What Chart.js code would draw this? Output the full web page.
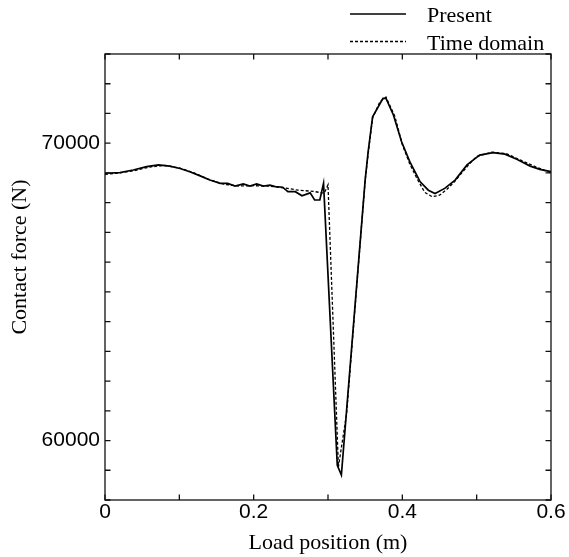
<!DOCTYPE html>
<html lang="en">
<head>
<meta charset="UTF-8">
<title>Contact force vs load position</title>
<script src="https://cdn.jsdelivr.net/npm/chart.js@4"></script>
<style>
  html, body { margin: 0; padding: 0; background: #fff; }
</style>
</head>
<body>
<canvas id="forceChart" width="569" height="557"></canvas>
<script>
// values
const presentPos = [0, 0.02, 0.038, 0.056, 0.072, 0.087, 0.101, 0.114, 0.128, 0.141,
  0.155, 0.165, 0.175, 0.186, 0.195, 0.204, 0.213, 0.222, 0.229, 0.239,
  0.246, 0.256, 0.265, 0.276, 0.282, 0.289, 0.294, 0.3125, 0.318, 0.35,
  0.354, 0.36, 0.374, 0.378, 0.388, 0.399, 0.41, 0.424, 0.435, 0.444,
  0.457, 0.471, 0.487, 0.504, 0.522, 0.538, 0.554, 0.572, 0.585, 0.6];
const presentForce = [68990, 69010, 69100, 69210, 69270, 69230, 69150, 69040, 68900, 68760,
  68650, 68650, 68560, 68630, 68560, 68630, 68560, 68590, 68540, 68520,
  68370, 68370, 68230, 68330, 68090, 68090, 68650, 59170, 58840, 68760,
  69710, 70890, 71510, 71510, 70950, 70050, 69380, 68700, 68420, 68310,
  68480, 68760, 69270, 69600, 69680, 69630, 69460, 69230, 69120, 69040];

const timePos = [0, 0.02, 0.04, 0.06, 0.08, 0.1, 0.12, 0.14, 0.16, 0.18,
  0.2, 0.22, 0.24, 0.26, 0.28, 0.295, 0.3, 0.314, 0.325, 0.35,
  0.355, 0.36, 0.37, 0.378, 0.39, 0.4, 0.41, 0.42, 0.43, 0.44,
  0.45, 0.46, 0.47, 0.48, 0.49, 0.5, 0.52, 0.54, 0.56, 0.58, 0.6];
const timeForce = [68950, 69000, 69080, 69200, 69250, 69170, 69000, 68780, 68620, 68560,
  68570, 68560, 68500, 68420, 68380, 68320, 68600, 59110, 60900, 68760,
  69850, 70850, 71400, 71550, 70900, 69950, 69300, 68800, 68350, 68200,
  68250, 68450, 68700, 69000, 69300, 69550, 69700, 69650, 69420, 69200, 69000];

const xTickLabels = ['0', '0.2', '0.4', '0.6'];
const yTickLabels = ['60000', '70000'];
const seriesNames = ['Present', 'Time domain'];

const SANS = '"Liberation Sans", Arial, sans-serif';
const SERIF = '"Liberation Serif", "Times New Roman", serif';

function toPoints(xs, ys) {
  return xs.map((v, i) => ({ x: v, y: ys[i] }));
}

// box, inward ticks, legend and y title
const framePlugin = {
  id: 'frame',
  afterDraw(chart) {
    const { ctx, chartArea: a, scales: { x, y } } = chart;
    const len = 5.5;
    ctx.save();
    ctx.strokeStyle = '#111';
    ctx.lineWidth = 1.3;
    ctx.strokeRect(a.left, a.top, a.right - a.left, a.bottom - a.top);
    ctx.beginPath();
    x.ticks.forEach(t => {
      const px = x.getPixelForValue(t.value);
      ctx.moveTo(px, a.bottom); ctx.lineTo(px, a.bottom - len);
      ctx.moveTo(px, a.top); ctx.lineTo(px, a.top + len);
    });
    y.ticks.forEach(t => {
      const py = y.getPixelForValue(t.value);
      ctx.moveTo(a.left, py); ctx.lineTo(a.left + len, py);
      ctx.moveTo(a.right, py); ctx.lineTo(a.right - len, py);
    });
    ctx.stroke();

    // legend
    ctx.fillStyle = '#000';
    ctx.font = '22px ' + SERIF;
    ctx.textBaseline = 'alphabetic';
    chart.data.datasets.forEach((ds, i) => {
      const ly = 14 + i * 27.5;
      ctx.beginPath();
      ctx.strokeStyle = ds.borderColor;
      ctx.lineWidth = ds.borderWidth;
      ctx.setLineDash(ds.borderDash || []);
      ctx.moveTo(350, ly);
      ctx.lineTo(406, ly);
      ctx.stroke();
      ctx.fillText(ds.label, 427, ly + 8);
    });
    ctx.setLineDash([]);

    // y title
    ctx.translate(20, 257);
    ctx.rotate(-Math.PI / 2);
    ctx.textAlign = 'center';
    ctx.textBaseline = 'middle';
    ctx.fillText('Contact force (N)', 0, 0);
    ctx.restore();
  }
};

new Chart(document.getElementById('forceChart'), {
  type: 'line',
  data: {
    datasets: [
      {
        label: seriesNames[0],
        data: toPoints(presentPos, presentForce),
        borderColor: '#000',
        borderWidth: 1.7,
        pointRadius: 0,
        tension: 0
      },
      {
        label: seriesNames[1],
        data: toPoints(timePos, timeForce),
        borderColor: '#000',
        borderWidth: 1.3,
        borderDash: [3, 2],
        pointRadius: 0,
        tension: 0
      }
    ]
  },
  options: {
    responsive: false,
    animation: false,
    layout: { padding: { top: 54, right: 18, left: 0, bottom: 0 } },
    plugins: {
      legend: { display: false },
      tooltip: { enabled: false }
    },
    scales: {
      x: {
        type: 'linear',
        min: 0,
        max: 0.6,
        grid: { display: false, drawTicks: false },
        border: { display: false },
        ticks: {
          stepSize: 0.1,
          padding: 0,
          maxRotation: 0,
          color: '#000',
          font: { family: SANS, size: 21 },
          callback: v => {
            const k = Math.round(v * 10);
            return k % 2 === 0 ? xTickLabels[k / 2] : '';
          }
        },
        title: {
          display: true,
          text: 'Load position (m)',
          color: '#000',
          font: { family: SERIF, size: 22 },
          padding: { top: 0, bottom: 1 }
        },
        afterFit: s => { s.height = 57; }
      },
      y: {
        min: 58000,
        max: 73000,
        grid: { display: false, drawTicks: false },
        border: { display: false },
        ticks: {
          stepSize: 1000,
          padding: 5,
          color: '#000',
          font: { family: SANS, size: 21 },
          callback: v => {
            const i = yTickLabels.indexOf(String(v));
            return i >= 0 ? yTickLabels[i] : '';
          }
        },
        afterFit: s => { s.width = 105; }
      }
    }
  },
  plugins: [framePlugin]
});
</script>
</body>
</html>
